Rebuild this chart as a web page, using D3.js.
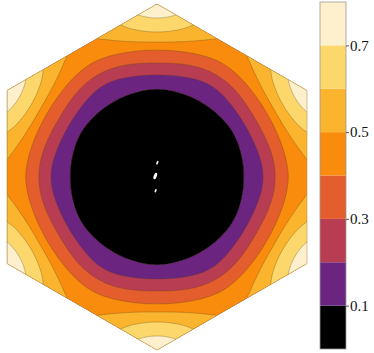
<!DOCTYPE html>
<html>
<head>
<meta charset="utf-8">
<script src="https://cdn.jsdelivr.net/npm/d3@7"></script>
<style>
  body { margin: 0; background: #fff; }
  svg { display: block; }
</style>
</head>
<body>
<script>
// contour levels and colours of the bands between them
var levels = [0.1, 0.2, 0.3, 0.4, 0.5, 0.6, 0.7]
var bandEdges = [0, 0.1, 0.2, 0.3, 0.4, 0.5, 0.6, 0.7, 0.8]
var bandColors = ["#000000", "#6b2581", "#b93d52", "#e45d2c", "#f98c0c", "#fbb42e", "#fcd86c", "#fef0cd"]
var colorTicks = [0.1, 0.3, 0.5, 0.7]

// radial profile (radius in units of the hexagon circumradius)
// along Gamma -> K (towards a corner)
var kRadius = [0, 0.509, 0.590, 0.659, 0.734, 0.780, 0.838, 0.919, 1.0]
var kValue  = [0, 0.1,   0.2,   0.3,   0.4,   0.5,   0.6,   0.7,   0.79]
// along Gamma -> M (towards an edge centre)
var mRadius = [0, 0.503, 0.613, 0.682, 0.757, 0.866, 1.0]
var mValue  = [0, 0.1,   0.2,   0.3,   0.4,   0.48,  0.5]

// small holes (no data) near the centre, k units
var holeX = [0.002, -0.010, -0.008]
var holeY = [0.083, 0.006, -0.079]
var holeLen = [0.012, 0.020, 0.011]

var width = 374,
    height = 353
var svg = d3.select("body").append("svg")
    .attr("width", width)
    .attr("height", height)

var x = d3.scaleLinear().domain([-Math.sqrt(3) / 2, Math.sqrt(3) / 2]).range([7, 307])
var y = d3.scaleLinear().domain([-1, 1]).range([350, 4])

var profK = d3.scaleLinear().domain(kRadius).range(kValue).clamp(true)
var profM = d3.scaleLinear().domain(mRadius).range(mValue).clamp(true)

// blend the two profiles with the six-fold symmetry of the zone
function field(kx, ky) {
  var r = Math.hypot(kx, ky)
  var a = Math.atan2(ky, kx)
  var w = Math.pow(Math.cos(3 * (a - Math.PI / 2)), 2)
  return w * profK(r) + (1 - w) * profM(r)
}

var x0 = 7, y0 = 4
var nx = 301, ny = 347
var values = new Array(nx * ny)
for (var j = 0; j < ny; j++) {
  for (var i = 0; i < nx; i++) {
    values[i + j * nx] = field(x.invert(x0 + i + 0.5), y.invert(y0 + j + 0.5))
  }
}

var contours = d3.contours().size([nx, ny]).thresholds(levels)(values)
var path = d3.geoPath(d3.geoIdentity().translate([x0, y0]))

// hexagon (pointy top)
var hex = d3.range(6).map(function(k) {
  var a = Math.PI / 2 + k * Math.PI / 3
  return [x(Math.cos(a)), y(Math.sin(a))]
})

svg.append("clipPath").attr("id", "hexclip")
  .append("polygon")
  .attr("points", hex.map(function(p) { return p.join(","); }).join(" "))

var plot = svg.append("g").attr("clip-path", "url(#hexclip)")

plot.append("polygon")
    .attr("points", hex.map(function(p) { return p.join(","); }).join(" "))
    .attr("fill", bandColors[0])

plot.selectAll("path.band")
    .data(contours)
    .enter().append("path")
    .attr("class", "band")
    .attr("d", path)
    .attr("fill", function(d, i) { return bandColors[i + 1]; })
    .attr("stroke", "#5b4a1e")
    .attr("stroke-opacity", 0.55)
    .attr("stroke-width", 0.6)

plot.selectAll("ellipse.hole")
    .data(holeX)
    .enter().append("ellipse")
    .attr("class", "hole")
    .attr("cx", function(d) { return x(d); })
    .attr("cy", function(d, i) { return y(holeY[i]); })
    .attr("rx", function(d, i) { return (y(0) - y(holeLen[i])) * 0.45; })
    .attr("ry", function(d, i) { return y(0) - y(holeLen[i]); })
    .attr("transform", function(d, i) { return "rotate(20," + x(d) + "," + y(holeY[i]) + ")"; })
    .attr("fill", "#fff")

svg.append("polygon")
    .attr("points", hex.map(function(p) { return p.join(","); }).join(" "))
    .attr("fill", "none")
    .attr("stroke", "#b0904a")
    .attr("stroke-opacity", 0.7)
    .attr("stroke-width", 0.8)

// colour bar
var cbX = 320, cbW = 26
var yc = d3.scaleLinear().domain([0, 0.8]).range([349, 2])
var cbar = svg.append("g")
cbar.selectAll("rect")
    .data(bandColors)
    .enter().append("rect")
    .attr("x", cbX)
    .attr("width", cbW)
    .attr("y", function(d, i) { return yc(bandEdges[i + 1]); })
    .attr("height", function(d, i) { return yc(bandEdges[i]) - yc(bandEdges[i + 1]); })
    .attr("fill", function(d) { return d; })
cbar.append("rect")
    .attr("x", cbX).attr("y", yc(0.8))
    .attr("width", cbW).attr("height", yc(0) - yc(0.8))
    .attr("fill", "none")
    .attr("stroke", "#9a9a9a")
    .attr("stroke-width", 0.8)

var axis = svg.append("g")
    .attr("transform", "translate(" + (cbX + cbW) + ",0)")
    .call(d3.axisRight(yc).tickValues(colorTicks).tickSize(3).tickPadding(1).tickFormat(d3.format(".1f")))
axis.select(".domain").remove()
axis.selectAll("line").attr("stroke", "#555")
axis.selectAll("text")
    .attr("font-family", "'Liberation Serif', serif")
    .attr("font-size", 15)
    .attr("fill", "#111")
</script>
</body>
</html>
